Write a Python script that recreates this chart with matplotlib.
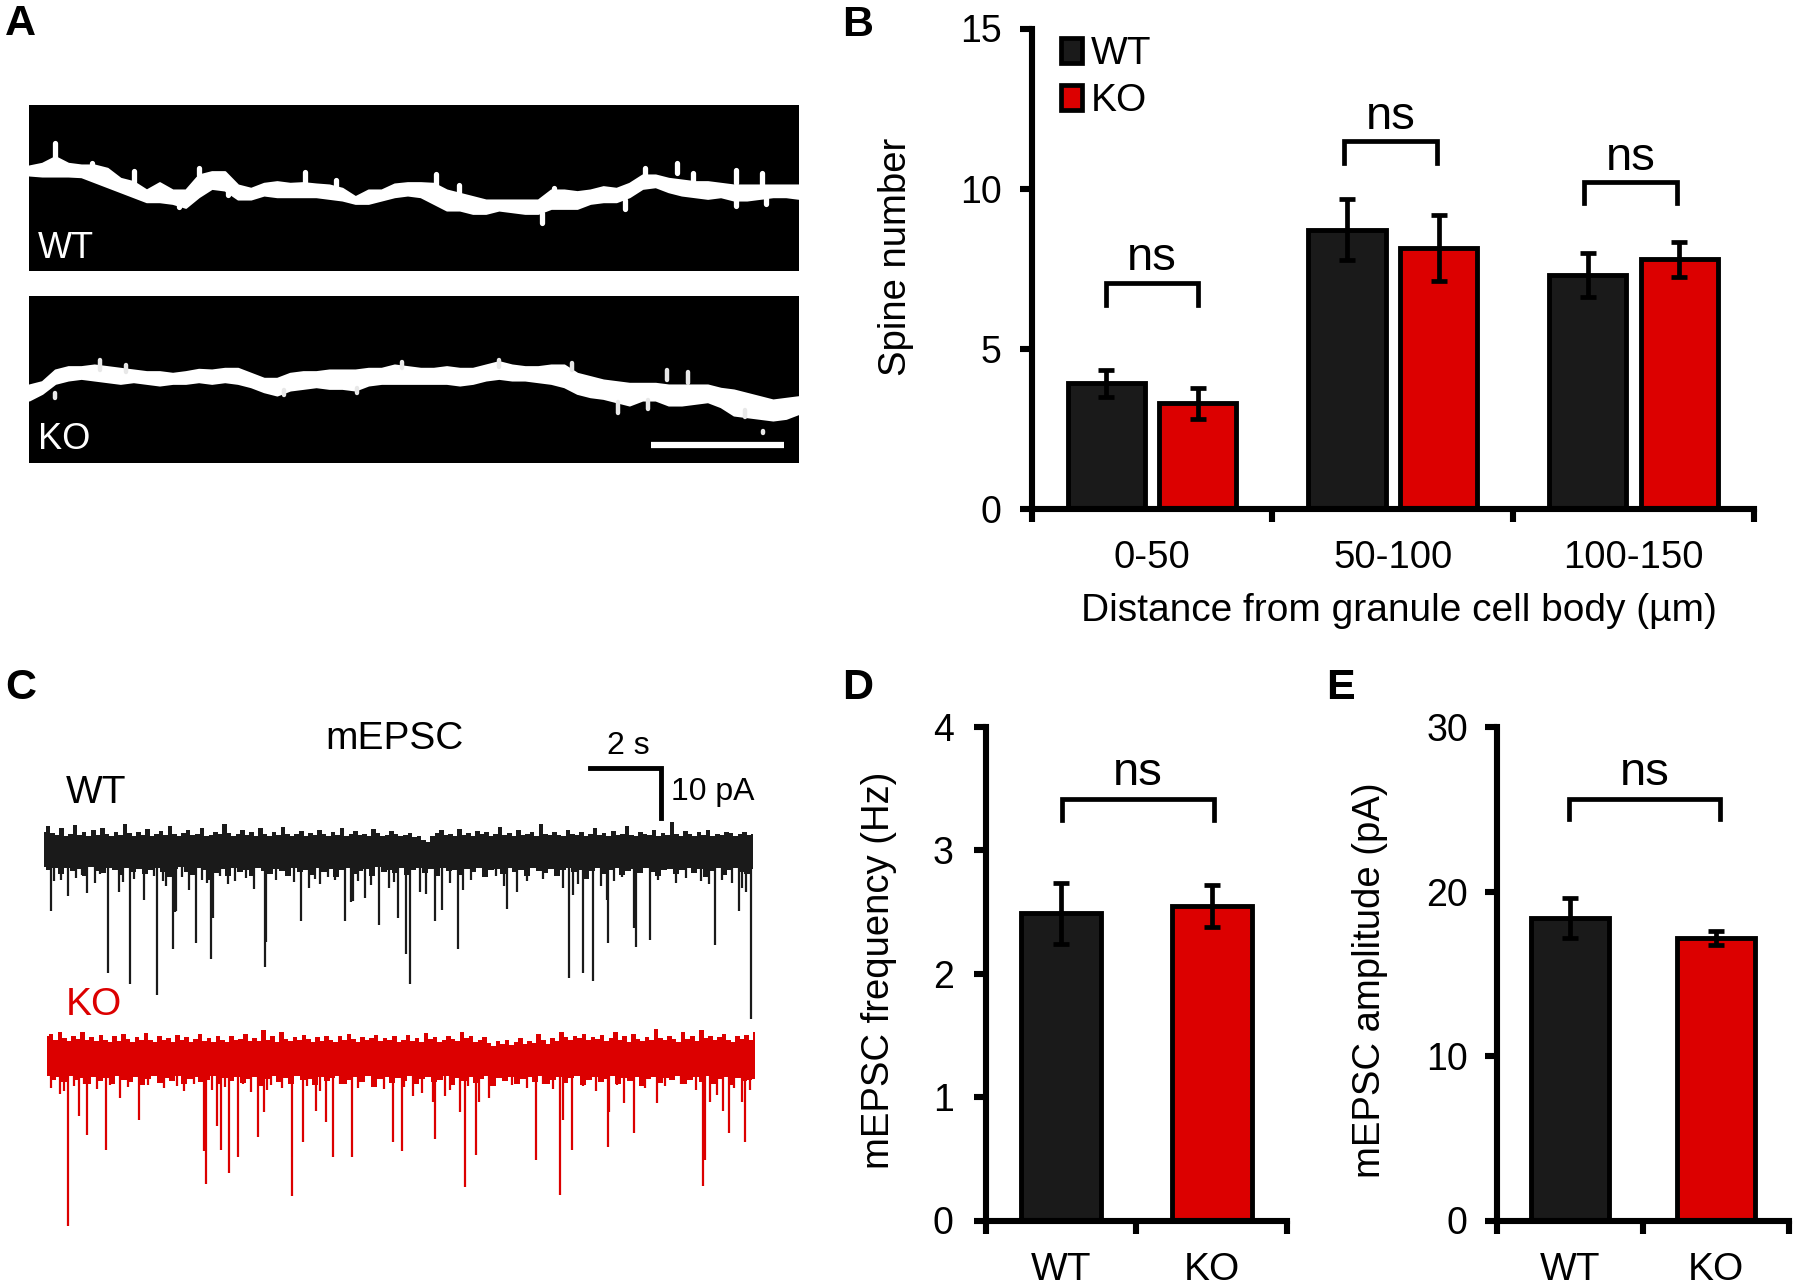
import numpy as np
import matplotlib
matplotlib.use('Agg')
import matplotlib.pyplot as plt
from matplotlib.patches import Patch

plt.rcParams['font.family'] = ['Liberation Sans', 'DejaVu Sans']

FIG_W = 1800
FIG_H = 1286
BLACK = '#1a1a1a'
RED = '#dc0000'

wtEdgeTop = [498, 490, 470, 490, 495, 495, 505, 535, 545, 570, 548, 570, 570, 525, 515, 515, 555, 565, 550, 545, 550, 548, 552, 555, 565, 590, 570, 570, 552, 548, 548, 550, 570, 580, 590, 600, 600, 600, 600, 600, 570, 570, 575, 570, 560, 565, 550, 525, 525, 535, 540, 545, 545, 550, 555, 555, 555, 555, 555, 555]
wtEdgeBot = [525, 528, 528, 528, 530, 545, 560, 575, 590, 605, 605, 610, 622, 590, 565, 570, 597, 597, 585, 590, 590, 590, 590, 595, 600, 610, 610, 600, 590, 585, 590, 610, 630, 630, 640, 640, 630, 635, 640, 640, 625, 625, 625, 610, 605, 605, 590, 565, 560, 575, 585, 590, 595, 590, 600, 600, 595, 590, 590, 595]
wtSpineX = [105, 255, 378, 580, 830, 1033, 1190, 1228, 1290, 1320, 1402, 1452, 340, 1402, 1460, 640, 175, 1055, 875, 435]
wtSpineTop = [430, 512, 505, 515, 522, 640, 600, 505, 488, 520, 510, 520, 600, 590, 590, 540, 488, 565, 555, 560]
wtSpineBot = [490, 545, 525, 550, 555, 670, 628, 530, 520, 545, 550, 555, 622, 618, 612, 560, 510, 590, 580, 585]

koEdgeTop = [1155, 1145, 1110, 1100, 1100, 1095, 1100, 1105, 1110, 1115, 1115, 1120, 1115, 1108, 1110, 1105, 1105, 1120, 1135, 1135, 1120, 1115, 1115, 1110, 1110, 1110, 1105, 1105, 1095, 1100, 1105, 1105, 1100, 1105, 1105, 1095, 1085, 1095, 1100, 1100, 1095, 1095, 1120, 1130, 1140, 1145, 1150, 1150, 1150, 1155, 1155, 1155, 1155, 1165, 1170, 1180, 1190, 1200, 1195, 1190]
koEdgeBot = [1200, 1180, 1150, 1140, 1135, 1140, 1145, 1150, 1145, 1150, 1155, 1150, 1150, 1145, 1150, 1145, 1150, 1160, 1175, 1185, 1170, 1165, 1160, 1165, 1165, 1170, 1155, 1150, 1150, 1150, 1150, 1150, 1150, 1155, 1150, 1140, 1135, 1140, 1140, 1145, 1150, 1160, 1180, 1190, 1195, 1205, 1215, 1200, 1200, 1215, 1215, 1210, 1205, 1220, 1245, 1250, 1255, 1260, 1255, 1240]
koSpineX = [190, 240, 765, 950, 1090, 1178, 1235, 1270, 1310, 1420, 105, 540, 680, 1453]
koSpineTop = [1080, 1095, 1085, 1080, 1090, 1205, 1200, 1110, 1115, 1230, 1180, 1170, 1165, 1292]
koSpineBot = [1110, 1115, 1105, 1100, 1110, 1240, 1228, 1140, 1150, 1250, 1195, 1185, 1180, 1300]

#------------- Panel B ---------------
distanceBins = ['0-50', '50-100', '100-150']
spineWT = [3.92, 8.72, 7.3]
spineKO = [3.3, 8.15, 7.8]
spineWTErr = [0.43, 0.95, 0.68]
spineKOErr = [0.49, 1.02, 0.55]

wtEventX = [100, 133, 170, 211, 232, 254, 281, 307, 338, 341, 344, 383, 413, 416, 497, 517, 520, 589, 604, 675, 686, 689, 713, 741, 778, 794, 802, 832, 849, 864, 895, 905, 990, 1010, 1111, 1120, 1140, 1158, 1186, 1187, 1238, 1241, 1243, 1270, 1397, 1443, 1458, 1468,
            105, 120, 148, 160, 185, 195, 240, 262, 300, 318, 325, 355, 370, 395, 405, 430, 445, 460, 480, 540, 560, 575, 615, 625, 640, 655, 700, 725, 760, 770, 820, 880, 920, 970, 985, 1030, 1060, 1100, 1130, 1175, 1200, 1215, 1285, 1320, 1340, 1370, 1385, 1410, 1430, 1450]
wtEventY = [622, 585, 578, 777, 575, 805, 595, 833, 717, 625, 622, 702, 742, 640, 568, 762, 700, 647, 565, 647, 600, 598, 590, 658, 640, 730, 805, 580, 647, 620, 718, 570, 618, 575, 790, 582, 778, 797, 595, 703, 665, 665, 713, 695, 707, 622, 575, 892,
            548, 545, 540, 532, 552, 530, 550, 542, 535, 548, 560, 538, 570, 545, 552, 535, 556, 548, 540, 545, 535, 550, 542, 556, 538, 546, 548, 558, 565, 550, 575, 552, 544, 536, 560, 548, 542, 565, 555, 560, 548, 538, 545, 552, 540, 548, 556, 545, 552, 565]
wtTop = [424, 411, 428, 432, 416, 434, 430, 408, 432, 426, 434, 421, 432, 414, 430, 434, 424, 432, 406, 428, 434, 426, 432, 418, 434, 430, 422, 433, 410, 430, 434, 427, 421, 433, 429, 415, 434, 432, 424, 431, 404, 427, 434, 430, 420, 433, 426, 434, 416, 431, 434, 424, 433, 412, 429, 434, 431, 422, 434, 427, 433, 419, 430, 434, 425, 432, 414, 434, 429, 423, 433, 431, 434, 417, 428, 434, 432, 423, 430, 436, 433, 427, 438, 434, 444, 451, 436, 428, 421, 433, 430, 434, 418, 432, 427, 434, 422, 431, 424, 434, 430, 413, 432, 428, 434, 421, 433, 429, 424, 434, 406, 430, 433, 425, 432, 434, 419, 429, 433, 426, 434, 431, 416, 432, 428, 434, 422, 433, 429, 411, 432, 434, 424, 430, 433, 420, 434, 427, 432, 400, 431, 434, 423, 429, 434, 426, 432, 421, 434, 430, 433, 424, 428, 434, 431, 425, 433, 429]
wtBottom = [513, 520, 516, 530, 514, 523, 517, 536, 512, 522, 528, 515, 519, 533, 514, 524, 517, 530, 521, 515, 526, 538, 518, 513, 524, 532, 516, 521, 546, 528, 518, 534, 515, 525, 520, 536, 514, 523, 530, 517, 522, 535, 515, 526, 519, 532, 514, 524, 518, 538, 520, 515, 530, 522, 517, 534, 513, 525, 519, 528, 516, 533, 521, 514, 527, 518, 536, 515, 523, 520, 532, 517, 526, 515, 538, 521, 518, 530, 514, 524, 519, 535, 516, 523, 528, 517, 534, 521, 515, 526, 519, 542, 523, 516, 530, 520, 514, 533, 522, 517, 528, 515, 524, 536, 519, 517, 531, 521, 514, 527, 518, 538, 523, 516, 532, 520, 515, 526, 530, 518]
koEventX = [118, 133, 155, 170, 208, 235, 272, 360, 398, 403, 423, 431, 448, 465, 505, 515, 522, 570, 592, 618, 636, 651, 688, 768, 785, 806, 845, 850, 898, 908, 930, 935, 1047, 1094, 1100, 1118, 1187, 1190, 1220, 1239, 1283, 1373, 1375, 1378, 1388, 1413, 1425, 1449, 1456,
            100, 125, 145, 165, 190, 215, 250, 290, 320, 345, 380, 415, 440, 475, 490, 530, 550, 600, 625, 665, 700, 730, 750, 790, 825, 870, 880, 915, 955, 1000, 1030, 1060, 1080, 1140, 1165, 1205, 1260, 1300, 1330, 1360, 1400, 1435, 1465]
koEventY = [1080, 1410, 1135, 1182, 1220, 1090, 1145, 1072, 1222, 1305, 1160, 1220, 1277, 1237, 1188, 1125, 1070, 1335, 1200, 1122, 1150, 1237, 1237, 1200, 1223, 1085, 1100, 1193, 1125, 1312, 1232, 1100, 1245, 1332, 1145, 1220, 1213, 1125, 1103, 1178, 1103, 1310, 1245, 1245, 1100, 1122, 1178, 1100, 1200,
            1065, 1072, 1060, 1055, 1068, 1058, 1062, 1058, 1066, 1060, 1054, 1070, 1062, 1056, 1075, 1058, 1066, 1060, 1072, 1055, 1064, 1058, 1068, 1062, 1078, 1085, 1070, 1060, 1090, 1058, 1064, 1056, 1068, 1060, 1072, 1058, 1066, 1060, 1056, 1070, 1082, 1064, 1070]
koTop = [936, 930, 944, 926, 941, 948, 934, 943, 924, 946, 938, 948, 932, 944, 950, 936, 947, 930, 942, 949, 937, 946, 928, 944, 950, 934, 946, 940, 949, 932, 945, 938, 950, 942, 930, 947, 939, 949, 934, 944, 950, 936, 946, 942, 931, 948, 940, 947, 921, 944, 936, 949, 926, 942, 948, 937, 946, 932, 943, 950, 938, 947, 934, 944, 949, 936, 946, 929, 942, 950, 938, 946, 941, 932, 948, 940, 946, 936, 950, 944, 933, 947, 941, 949, 928, 943, 938, 950, 946, 934, 942, 948, 924, 940, 936, 949, 945, 938, 953, 960, 948, 954, 944, 958, 951, 941, 956, 947, 952, 931, 944, 954, 941, 948, 926, 938, 944, 934, 940, 929, 946, 937, 943, 932, 948, 941, 926, 945, 936, 949, 931, 942, 947, 938, 944, 918, 940, 946, 934, 943, 949, 926, 942, 936, 947, 921, 941, 934, 946, 938, 930, 944, 949, 936, 942, 932, 946, 926]
koBottom = [1034, 1044, 1038, 1051, 1036, 1046, 1040, 1056, 1037, 1048, 1041, 1054, 1036, 1045, 1050, 1038, 1058, 1042, 1036, 1052, 1040, 1047, 1036, 1054, 1042, 1038, 1050, 1044, 1036, 1056, 1040, 1048, 1037, 1052, 1043, 1038, 1060, 1042, 1036, 1050, 1040, 1054, 1036, 1046, 1042, 1058, 1038, 1048, 1040, 1036, 1054, 1044, 1038, 1050, 1036, 1062, 1042, 1038, 1052, 1040, 1048, 1036, 1056, 1042, 1038, 1051, 1044, 1036, 1058, 1040, 1047, 1038, 1053, 1042, 1036, 1061, 1040, 1048, 1037, 1054, 1042, 1038, 1050, 1036, 1056, 1044, 1038, 1052, 1040, 1036, 1058, 1046, 1038, 1050, 1042, 1036, 1054, 1040, 1048, 1037, 1060, 1042, 1038, 1052, 1040, 1046, 1036, 1056, 1044, 1038, 1050, 1036, 1054, 1042, 1038, 1058, 1040, 1048, 1044, 1042]

#------------- Panels D and E ---------------
genotypes = ['WT', 'KO']
freqMeans = [2.49, 2.55]
freqErrs = [0.245, 0.17]
ampMeans = [18.4, 17.17]
ampErrs = [1.2, 0.45]


def addAxes(left, top, right, bottom):
    # axes from pixel edges of the figure
    return fig.add_axes([left / FIG_W, 1 - bottom / FIG_H, (right - left) / FIG_W, (bottom - top) / FIG_H])


def styleBarAxes(ax, ymax, yticks, yPad, xPad, edges, xSize):
    ax.set_xlim(0, edges)
    ax.set_ylim(0, ymax)
    ax.spines['top'].set_visible(False)
    ax.spines['right'].set_visible(False)
    ax.spines['left'].set_linewidth(4.4)
    ax.spines['bottom'].set_linewidth(4.4)
    ax.set_yticks(yticks)
    ax.set_xticks(range(edges + 1))
    ax.set_xticklabels([])
    ax.tick_params(axis='both', which='major', width=4.4, length=9, color='black')
    ax.tick_params(axis='y', labelsize=27, pad=yPad)
    ax.set_xticks(np.arange(edges) + 0.5, minor=True)
    ax.tick_params(axis='x', which='minor', length=0, labelsize=xSize, pad=xPad)


def setYLabel(ax, text, x, y, size=27.5):
    # x, y are the pixel centre of the label in the figure
    ax.set_ylabel(text, fontsize=size)
    ax.yaxis.label.set_va('center')
    box = ax.get_position()
    ax.yaxis.set_label_coords((x / FIG_W - box.x0) / box.width, ((1 - y / FIG_H) - box.y0) / box.height)


def drawBracket(ax, x0, x1, yTop, yBottom, yText):
    ax.plot([x0, x0, x1, x1], [yBottom, yTop, yTop, yBottom], color='black', lw=3.4, solid_joinstyle='miter', clip_on=False)
    ax.text((x0 + x1) / 2, yText, 'ns', fontsize=34, ha='center', va='center')


def drawBar(ax, x, height, err, width, color):
    ax.bar(x, height, width=width, color=color, edgecolor='black', linewidth=3.5)
    ax.errorbar(x, height, yerr=err, color='black', elinewidth=3.4, capsize=6, capthick=3.4, zorder=5)


fig = plt.figure(figsize=(FIG_W / 100, FIG_H / 100), dpi=100)

# panel letters
for letter, x, y in [('A', 5, 24), ('B', 842, 25), ('C', 5, 688), ('D', 842, 688), ('E', 1326, 688)]:
    fig.text(x / FIG_W, 1 - y / FIG_H, letter, fontsize=31, fontweight='bold', ha='left', va='center')

#----------- Panel A -------------
axA = addAxes(29, 100, 799, 470)
axA.set_xlim(55, 1522)
axA.set_ylim(1410, 300)
axA.axis('off')
axA.axhspan(315, 812, color='black', lw=0)
axA.axhspan(888, 1390, color='black', lw=0)
axA.fill_between(np.linspace(55, 1522, len(wtEdgeTop)), wtEdgeTop, wtEdgeBot, color='white', lw=1.5)
axA.fill_between(np.linspace(55, 1522, len(koEdgeTop)), koEdgeTop, koEdgeBot, color='white', lw=1.5)
for x, y0, y1 in zip(wtSpineX, wtSpineTop, wtSpineBot):
    axA.plot([x, x], [y0, y1], color='white', lw=3.8, solid_capstyle='round')
for x, y0, y1 in zip(koSpineX, koSpineTop, koSpineBot):
    axA.plot([x, x], [y0, y1], color='#e8e8e8', lw=3.2, solid_capstyle='round')
axA.plot([1240, 1494], [1335, 1335], color='white', lw=4.5, solid_capstyle='butt')
axA.text(125, 745, 'WT', color='white', fontsize=26, ha='center', va='center')
axA.text(122, 1320, 'KO', color='white', fontsize=26, ha='center', va='center')

#----------- Panel B -------------
axB = addAxes(1031.5, 28.5, 1754, 509)
styleBarAxes(axB, 15, [0, 5, 10, 15], 12.5, 22.5, 3, 27.5)
groupX = np.arange(3) + 0.5
for i in range(3):
    drawBar(axB, groupX[i] - 0.19, spineWT[i], spineWTErr[i], 0.32, BLACK)
    drawBar(axB, groupX[i] + 0.19, spineKO[i], spineKOErr[i], 0.32, RED)
axB.set_xticklabels(distanceBins, minor=True)
setYLabel(axB, 'Spine number', 896, 257)
axB.set_xlabel('Distance from granule cell body (µm)', fontsize=28)
axB.xaxis.set_label_coords((1399 - 1031.5) / 722.5, -(611 - 509) / 480.5)
axB.xaxis.label.set_va('center')
drawBracket(axB, 0.31, 0.69, 7.06, 6.38, 7.83)
drawBracket(axB, 1.298, 1.682, 11.5, 10.8, 12.23)
drawBracket(axB, 2.295, 2.68, 10.2, 9.55, 10.95)
legendHandles = [Patch(facecolor=BLACK, edgecolor='black', linewidth=3.4), Patch(facecolor=RED, edgecolor='black', linewidth=3.4)]
axB.legend(legendHandles, genotypes, loc='upper left', bbox_to_anchor=(0.03, 1.0), frameon=False, fontsize=28,
           handlelength=0.55, handleheight=0.6, handletextpad=0.22, labelspacing=0.28, borderpad=0, borderaxespad=0.2)

#----------- Panel C -------------
axC = addAxes(0, 662, 800, 1286)
axC.set_xlim(0, 1563)
axC.set_ylim(1560, 0)
axC.axis('off')
axC.fill_between(np.linspace(85, 1472, len(wtTop)), wtTop, 470, color=BLACK, lw=0, step='mid')
axC.fill_between(np.linspace(85, 1472, len(wtBottom)), 470, wtBottom, color=BLACK, lw=0, step='mid')
axC.vlines(wtEventX, 500, wtEventY, color=BLACK, lw=1.6)
axC.fill_between(np.linspace(91, 1476, len(koTop)), koTop, 990, color=RED, lw=0, step='mid')
axC.fill_between(np.linspace(91, 1476, len(koBottom)), 990, koBottom, color=RED, lw=0, step='mid')
axC.vlines(koEventX, 1020, koEventY, color=RED, lw=1.6)
axC.plot([1152, 1292, 1292], [265, 265, 390], color='black', lw=3.5, solid_joinstyle='miter')
axC.text(770, 193, 'mEPSC', fontsize=28, ha='center', va='center')
axC.text(1227, 210, '2 s', fontsize=23, ha='center', va='center')
axC.text(1310, 325, '10 pA', fontsize=23, ha='left', va='center')
axC.text(188, 327, 'WT', fontsize=28, ha='center', va='center')
axC.text(183, 857, 'KO', fontsize=28, color=RED, ha='center', va='center')

#----------- Panel D -------------
axD = addAxes(985.5, 727, 1287, 1220.5)
styleBarAxes(axD, 4, [0, 1, 2, 3, 4], 14, 23, 2, 28)
drawBar(axD, 0.5, freqMeans[0], freqErrs[0], 0.53, BLACK)
drawBar(axD, 1.5, freqMeans[1], freqErrs[1], 0.53, RED)
axD.set_xticklabels(genotypes, minor=True)
setYLabel(axD, 'mEPSC frequency (Hz)', 879, 970)
drawBracket(axD, 0.505, 1.515, 3.42, 3.25, 3.63)

#----------- Panel E -------------
axE = addAxes(1497, 727, 1789, 1220.5)
styleBarAxes(axE, 30, [0, 10, 20, 30], 12, 23, 2, 28)
drawBar(axE, 0.5, ampMeans[0], ampErrs[0], 0.53, BLACK)
drawBar(axE, 1.5, ampMeans[1], ampErrs[1], 0.53, RED)
axE.set_xticklabels(genotypes, minor=True)
setYLabel(axE, 'mEPSC amplitude (pA)', 1370, 980)
drawBracket(axE, 0.49, 1.53, 25.65, 24.4, 27.2)

plt.savefig('out.png', dpi=100)
